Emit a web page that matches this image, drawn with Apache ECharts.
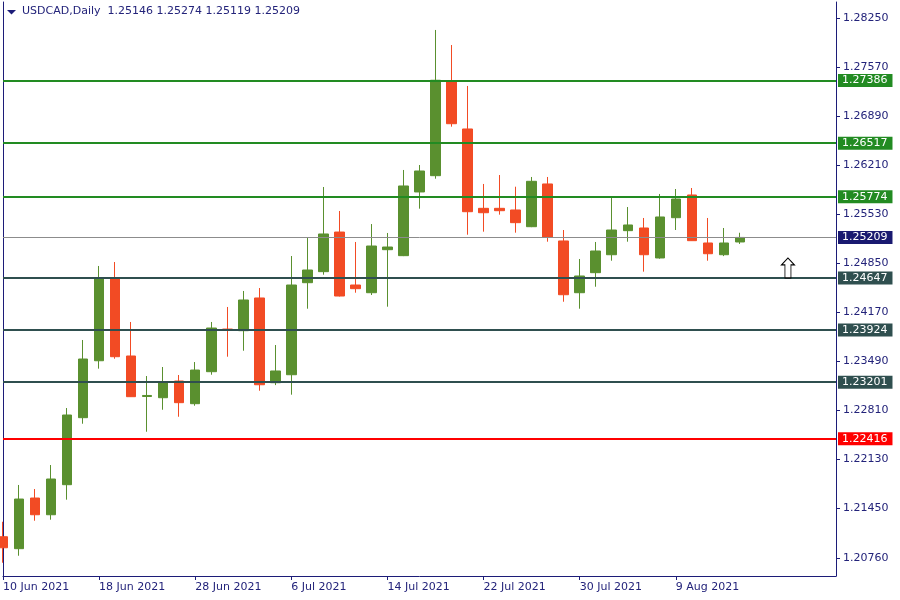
<!DOCTYPE html>
<html>
<head>
<meta charset="utf-8">
<script src="https://cdn.jsdelivr.net/npm/echarts@6/dist/echarts.min.js"></script>
<style>
html,body{margin:0;padding:0;background:#fff;}
#chart{width:900px;height:600px;}
</style>
</head>
<body>
<div id="chart"></div>
<script>
const symbolName = 'USDCAD';
const timeframe = 'Daily';

const categories = [
  '10 Jun 2021','11 Jun 2021','14 Jun 2021','15 Jun 2021','16 Jun 2021','17 Jun 2021','18 Jun 2021',
  '21 Jun 2021','22 Jun 2021','23 Jun 2021','24 Jun 2021','25 Jun 2021','28 Jun 2021','29 Jun 2021',
  '30 Jun 2021','1 Jul 2021','2 Jul 2021','5 Jul 2021','6 Jul 2021','7 Jul 2021','8 Jul 2021',
  '9 Jul 2021','12 Jul 2021','13 Jul 2021','14 Jul 2021','15 Jul 2021','16 Jul 2021','19 Jul 2021',
  '20 Jul 2021','21 Jul 2021','22 Jul 2021','23 Jul 2021','26 Jul 2021','27 Jul 2021','28 Jul 2021',
  '29 Jul 2021','30 Jul 2021','2 Aug 2021','3 Aug 2021','4 Aug 2021','5 Aug 2021','6 Aug 2021',
  '9 Aug 2021','10 Aug 2021','11 Aug 2021','12 Aug 2021','13 Aug 2021','16 Aug 2021','17 Aug 2021',
  '18 Aug 2021','19 Aug 2021','20 Aug 2021','23 Aug 2021'
];
const dateTickLabels = ['10 Jun 2021','18 Jun 2021','28 Jun 2021','6 Jul 2021','14 Jul 2021','22 Jul 2021','30 Jul 2021','9 Aug 2021'];

const opens = [1.21056,1.20890,1.21593,1.21361,1.21778,1.22708,1.23498,1.24632,1.23564,1.23002,
  1.22985,1.23217,1.22902,1.23346,1.23938,1.23915,1.24369,1.23193,1.23304,1.24581,
  1.24734,1.25284,1.24549,1.24442,1.25039,1.24956,1.25840,1.26066,1.27386,1.26714,
  1.25613,1.25613,1.25590,1.25358,1.25951,1.25160,1.24442,1.24720,1.24969,1.25303,
  1.25340,1.24924,1.25483,1.25798,1.25132,1.24969,1.25146];
const closes = [1.20903,1.21579,1.21361,1.21857,1.22745,1.23522,1.24646,1.23554,1.22999,1.23016,
  1.23203,1.22916,1.23369,1.23952,1.23918,1.24341,1.23165,1.23356,1.24549,1.24757,
  1.25257,1.24396,1.24498,1.25090,1.25076,1.25923,1.26131,1.27390,1.26787,1.25566,
  1.25552,1.25580,1.25414,1.25988,1.25211,1.24414,1.24674,1.25021,1.25312,1.25382,
  1.24969,1.25493,1.25742,1.25164,1.24983,1.25132,1.25209];
const lows = [1.20695,1.20792,1.21278,1.21292,1.21570,1.22624,1.23388,1.23526,1.22995,1.22513,
  1.22818,1.22721,1.22874,1.23304,1.23554,1.23637,1.23082,1.23160,1.23027,1.24220,
  1.24692,1.24390,1.24442,1.24410,1.24248,1.24950,1.25608,1.26024,1.26746,1.25247,
  1.25289,1.25525,1.25275,1.25352,1.25150,1.24317,1.24220,1.24525,1.24886,1.25150,
  1.24734,1.24914,1.25312,1.25160,1.24886,1.24950,1.25119];
const highs = [1.21264,1.21774,1.21718,1.22051,1.22842,1.23786,1.24813,1.24868,1.24036,1.23286,
  1.23411,1.23300,1.23480,1.24036,1.24244,1.24466,1.24507,1.23716,1.24951,1.25201,
  1.25909,1.25576,1.25146,1.25395,1.25271,1.26145,1.26214,1.28088,1.27879,1.27311,
  1.25951,1.26075,1.25913,1.26048,1.26048,1.25312,1.24910,1.25146,1.25756,1.25631,
  1.25479,1.25812,1.25881,1.25895,1.25479,1.25340,1.25274];

const priceTicks = [1.20760,1.21450,1.22130,1.22810,1.23490,1.24170,1.24850,1.25530,1.26210,1.26890,1.27570,1.28250];
const resistanceLevels = [1.27386,1.26517,1.25774];
const supportLevels = [1.24647,1.23924,1.23201];
const redLevel = 1.22416;
const currentPrice = 1.25209;
const arrowDate = '18 Aug 2021';
const arrowPrice = 1.24647;

const yMin = 1.20511, yMax = 1.28476;

const UP = '#5A902F', DOWN = '#F24B24';
const NAVY = '#1c1c78', TEXT = '#23237a';
const FONT = 'DejaVu Sans';

const candleData = opens.map((o, i) => [o, closes[i], lows[i], highs[i]]);

const firstCat = categories[0], lastCat = categories[categories.length - 1];
function level(v, color, width, bg) {
  return [{
    coord: [firstCat, v],
    lineStyle: { color: color, width: width, type: 'solid' },
    label: { show: true, position: 'end', distance: 2, formatter: v.toFixed(5),
      color: '#ffffff', backgroundColor: bg, padding: [1, 5, 1, 4],
      fontFamily: FONT, fontSize: 11, lineHeight: 11 }
  }, { coord: [lastCat, v] }];
}
const levelData = [];
levelData.push(level(currentPrice, '#8C8C8C', 1, '#191970'));
resistanceLevels.forEach(v => levelData.push(level(v, '#228B22', 2, '#228B22')));
supportLevels.forEach(v => levelData.push(level(v, '#2F4F4F', 2, '#2F4F4F')));
levelData.push(level(redLevel, '#FF0000', 2, '#FF0000'));

const labelSet = new Set(dateTickLabels);
const last = candleData[candleData.length - 1];

const chart = echarts.init(document.getElementById('chart'), null, { renderer: 'canvas' });
chart.setOption({
  animation: false,
  backgroundColor: '#ffffff',
  title: {
    text: symbolName + ',' + timeframe + '  ' + [last[0], last[3], last[2], last[1]].map(v => v.toFixed(5)).join(' '),
    left: 22, top: 6, padding: 0,
    textStyle: { fontFamily: FONT, fontSize: 11, fontWeight: 'normal', color: TEXT }
  },
  graphic: [{
    type: 'polygon', shape: { points: [[7, 10], [16, 10], [11.5, 14.5]] },
    style: { fill: NAVY }
  }],
  grid: { left: 2, right: 64, top: 2, bottom: 24, containLabel: false },
  xAxis: {
    type: 'category',
    data: categories,
    boundaryGap: false,
    axisLine: { show: true, lineStyle: { color: NAVY, width: 1 } },
    axisTick: { show: true, length: 4, interval: (i, v) => labelSet.has(v), lineStyle: { color: NAVY } },
    axisLabel: { show: true, interval: (i, v) => labelSet.has(v), align: 'left', margin: 6,
      fontFamily: FONT, fontSize: 11, color: TEXT },
    splitLine: { show: false }
  },
  yAxis: [{
    type: 'value', position: 'right', min: yMin, max: yMax, scale: true,
    axisLine: { show: true, lineStyle: { color: NAVY, width: 1 } },
    axisTick: { show: true, inside: false, length: 4, customValues: priceTicks, lineStyle: { color: NAVY } },
    axisLabel: { show: true, customValues: priceTicks, margin: 7, formatter: v => v.toFixed(5),
      fontFamily: FONT, fontSize: 11, color: TEXT },
    splitLine: { show: false }
  }, {
    type: 'value', position: 'left', min: yMin, max: yMax, scale: true,
    axisLine: { show: true, lineStyle: { color: NAVY, width: 1 } },
    axisTick: { show: false }, axisLabel: { show: false }, splitLine: { show: false }
  }],
  series: [{
    type: 'candlestick',
    yAxisIndex: 0,
    data: candleData,
    barWidth: 10,
    clip: true,
    itemStyle: { color: UP, color0: DOWN, borderColor: UP, borderColor0: DOWN, borderWidth: 1 },
    markLine: {
      silent: true, symbol: ['none', 'none'], animation: false,
      data: levelData
    },
    markPoint: {
      silent: true,
      data: [{
        coord: [arrowDate, arrowPrice],
        symbol: 'path://M6.5,0 L13,7 L9.5,7 L9.5,20 L3.5,20 L3.5,7 L0,7 Z',
        symbolSize: [13, 20],
        symbolOffset: [0, '-50%'],
        itemStyle: { color: '#ffffff', borderColor: '#000000', borderWidth: 1 },
        label: { show: false }
      }]
    }
  }]
});
</script>
</body>
</html>
